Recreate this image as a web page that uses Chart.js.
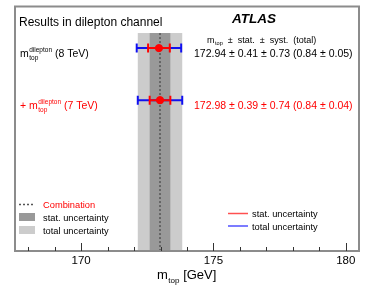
<!DOCTYPE html>
<html>
<head>
<meta charset="utf-8">
<script src="https://cdn.jsdelivr.net/npm/chart.js@4.4.1/dist/chart.umd.min.js"></script>
<style>
  html, body { margin: 0; padding: 0; background: #fff; }
  #wrap { width: 374px; height: 292px; }
</style>
</head>
<body>
<div id="wrap"><canvas id="mtop-chart"></canvas></div>
<script>
// measurements (rows, top to bottom)
const rowPrefix = ['', '+ '];
const rowEnergy = ['8 TeV', '7 TeV'];
const rowValue = [172.94, 172.98];
const rowStat = [0.41, 0.39];
const rowSyst = [0.73, 0.74];
const rowTotal = [0.84, 0.84];
const rowTotalErr = [0.05, 0.04];

// combination band
const combValue = 172.98;
const combStat = 0.39;
const combTotal = 0.84;

// x axis
const xMin = 167.5;
const xMax = 180.5;
const tickValues = [168, 169, 170, 171, 172, 173, 174, 175, 176, 177, 178, 179, 180];

const FONT = '"Liberation Sans", Arial, Helvetica, sans-serif';
const RED = '#ff0000';
const BLUE = '#1010f0';
const rowColor = ['#000000', RED];
const BAND_TOP = -0.29; // band starts below the title line (y units)

var datasets = [];
for (let i = 0; i < rowValue.length; i++) {
    datasets.push({
        data: [{ x: rowValue[i], y: i }],
        pointStyle: 'circle',
        pointRadius: 3.6,
        backgroundColor: RED,
        borderColor: RED,
        order: 0
    });
    datasets.push({
        data: [{ x: rowValue[i] - rowStat[i], y: i }, { x: rowValue[i] + rowStat[i], y: i }],
        showLine: true,
        borderColor: RED,
        borderWidth: 2,
        pointStyle: 'line',
        rotation: 90,
        pointRadius: 4.5,
        pointBorderWidth: 2,
        pointBorderColor: RED,
        order: 1
    });
    datasets.push({
        data: [{ x: rowValue[i] - rowTotal[i], y: i }, { x: rowValue[i] + rowTotal[i], y: i }],
        showLine: true,
        borderColor: BLUE,
        borderWidth: 2,
        pointStyle: 'line',
        rotation: 90,
        pointRadius: 4.5,
        pointBorderWidth: 2,
        pointBorderColor: BLUE,
        order: 2
    });
}

function mSymbol(ctx, x, y, size, sup, sub) {
    // draws m with stacked super/subscript, returns new x
    ctx.font = size + 'px ' + FONT;
    ctx.fillText('m', x, y);
    x += ctx.measureText('m').width + 0.5;
    let small = size * 0.62;
    ctx.font = small + 'px ' + FONT;
    let w = 0;
    if (sup) { ctx.fillText(sup, x, y - size * 0.42); w = ctx.measureText(sup).width; }
    if (sub) { ctx.fillText(sub, x, y + size * 0.3); w = Math.max(w, ctx.measureText(sub).width); }
    ctx.font = size + 'px ' + FONT;
    return x + w;
}

const bandPlugin = {
    id: 'bands',
    beforeDatasetsDraw(chart) {
        const { ctx, chartArea: a, scales: { x, y } } = chart;
        let top = y.getPixelForValue(BAND_TOP);
        ctx.save();
        ctx.fillStyle = '#cccccc';
        let l = x.getPixelForValue(combValue - combTotal), r = x.getPixelForValue(combValue + combTotal);
        ctx.fillRect(l, top, r - l, a.bottom - top);
        ctx.fillStyle = '#999999';
        l = x.getPixelForValue(combValue - combStat); r = x.getPixelForValue(combValue + combStat);
        ctx.fillRect(l, top, r - l, a.bottom - top);
        let c = x.getPixelForValue(combValue);
        ctx.strokeStyle = '#555555';
        ctx.lineWidth = 1.5;
        ctx.setLineDash([2, 2]);
        ctx.beginPath();
        ctx.moveTo(c, top);
        ctx.lineTo(c, a.bottom);
        ctx.stroke();
        ctx.restore();
    },
    afterDraw(chart) {
        const { ctx, chartArea: a, scales: { x, y } } = chart;
        ctx.save();

        // frame and ticks
        ctx.strokeStyle = '#8c8c8c';
        ctx.lineWidth = 2;
        ctx.strokeRect(a.left, a.top, a.right - a.left, a.bottom - a.top);
        ctx.strokeStyle = '#333333';
        ctx.lineWidth = 1;
        tickValues.forEach(v => {
            let px = Math.round(x.getPixelForValue(v)) + 0.5;
            ctx.beginPath();
            ctx.moveTo(px, a.bottom);
            ctx.lineTo(px, a.bottom - (v % 5 === 0 ? 8 : 4));
            ctx.stroke();
        });

        ctx.textBaseline = 'alphabetic';
        ctx.textAlign = 'left';
        ctx.fillStyle = '#000';
        ctx.font = '12px ' + FONT;
        ctx.fillText('Results in dilepton channel', 19, 26);
        ctx.font = 'italic bold 13.5px ' + FONT;
        ctx.fillText('ATLAS', 232, 22.5);

        // header
        let hy = y.getPixelForValue(0) - 5.5;
        let hx = mSymbol(ctx, 207, hy, 9, null, 'top');
        ctx.font = '9px ' + FONT;
        ctx.fillText('  \u00b1  stat.  \u00b1  syst.  (total)', hx, hy);

        // rows
        for (let i = 0; i < rowValue.length; i++) {
            let py = y.getPixelForValue(i) + 8.5;
            ctx.fillStyle = rowColor[i];
            ctx.font = '10.5px ' + FONT;
            let lx = 20;
            if (rowPrefix[i]) { ctx.fillText(rowPrefix[i], lx, py); lx += ctx.measureText(rowPrefix[i]).width; }
            lx = mSymbol(ctx, lx, py, 10.5, 'dilepton', 'top');
            ctx.fillText(' (' + rowEnergy[i] + ')', lx, py);
            let txt = rowValue[i].toFixed(2) + ' \u00b1 ' + rowStat[i].toFixed(2) + ' \u00b1 ' +
                rowSyst[i].toFixed(2) + ' (' + rowTotal[i].toFixed(2) + ' \u00b1 ' + rowTotalErr[i].toFixed(2) + ')';
            ctx.fillText(txt, 194, py);
        }

        // left legend
        ctx.font = '9.3px ' + FONT;
        ctx.strokeStyle = '#555555';
        ctx.lineWidth = 1.5;
        ctx.setLineDash([2, 2]);
        ctx.beginPath();
        ctx.moveTo(19, 204.5);
        ctx.lineTo(35, 204.5);
        ctx.stroke();
        ctx.setLineDash([]);
        ctx.fillStyle = RED;
        ctx.fillText('Combination', 43, 208);
        ctx.fillStyle = '#999999';
        ctx.fillRect(19, 213, 16, 8);
        ctx.fillStyle = '#cccccc';
        ctx.fillRect(19, 226, 16, 8);
        ctx.fillStyle = '#000';
        ctx.fillText('stat. uncertainty', 43, 221);
        ctx.fillText('total uncertainty', 43, 234);

        // right legend
        ctx.lineWidth = 1.5;
        ctx.strokeStyle = '#ff5050';
        ctx.beginPath(); ctx.moveTo(228, 213.5); ctx.lineTo(248, 213.5); ctx.stroke();
        ctx.strokeStyle = '#5050ff';
        ctx.beginPath(); ctx.moveTo(228, 226); ctx.lineTo(248, 226); ctx.stroke();
        ctx.fillStyle = '#000';
        ctx.fillText('stat. uncertainty', 252, 217);
        ctx.fillText('total uncertainty', 252, 229.5);

        // axis title
        ctx.fillStyle = '#000';
        let tx = mSymbol(ctx, 157, 279, 13, null, 'top');
        ctx.font = '13px ' + FONT;
        ctx.fillText(' [GeV]', tx, 279);

        ctx.restore();
    }
};

const ctx = document.getElementById('mtop-chart');
const mChart = new Chart(ctx, {
    type: 'scatter',
    data: { datasets: datasets },
    options: {
        responsive: true,
        maintainAspectRatio: false,
        animation: false,
        layout: { padding: { left: 15, right: 15, top: 5, bottom: 0 } },
        scales: {
            x: {
                type: 'linear',
                min: xMin,
                max: xMax,
                afterBuildTicks: (scale) => { scale.ticks = tickValues.map(v => ({ value: v })); },
                afterFit: (scale) => { scale.height = 41; },
                ticks: {
                    autoSkip: false,
                    maxRotation: 0,
                    padding: 3,
                    color: '#000',
                    font: { family: FONT, size: 11.5 },
                    callback: (v) => (v % 5 === 0 ? String(v) : '')
                },
                grid: { display: false, drawTicks: false, tickLength: 0 },
                border: { display: false }
            },
            y: {
                type: 'linear',
                display: false,
                reverse: true,
                min: -0.80,
                max: 3.90
            }
        },
        plugins: {
            legend: { display: false },
            tooltip: { enabled: false }
        }
    },
    plugins: [bandPlugin]
});
</script>
</body>
</html>
